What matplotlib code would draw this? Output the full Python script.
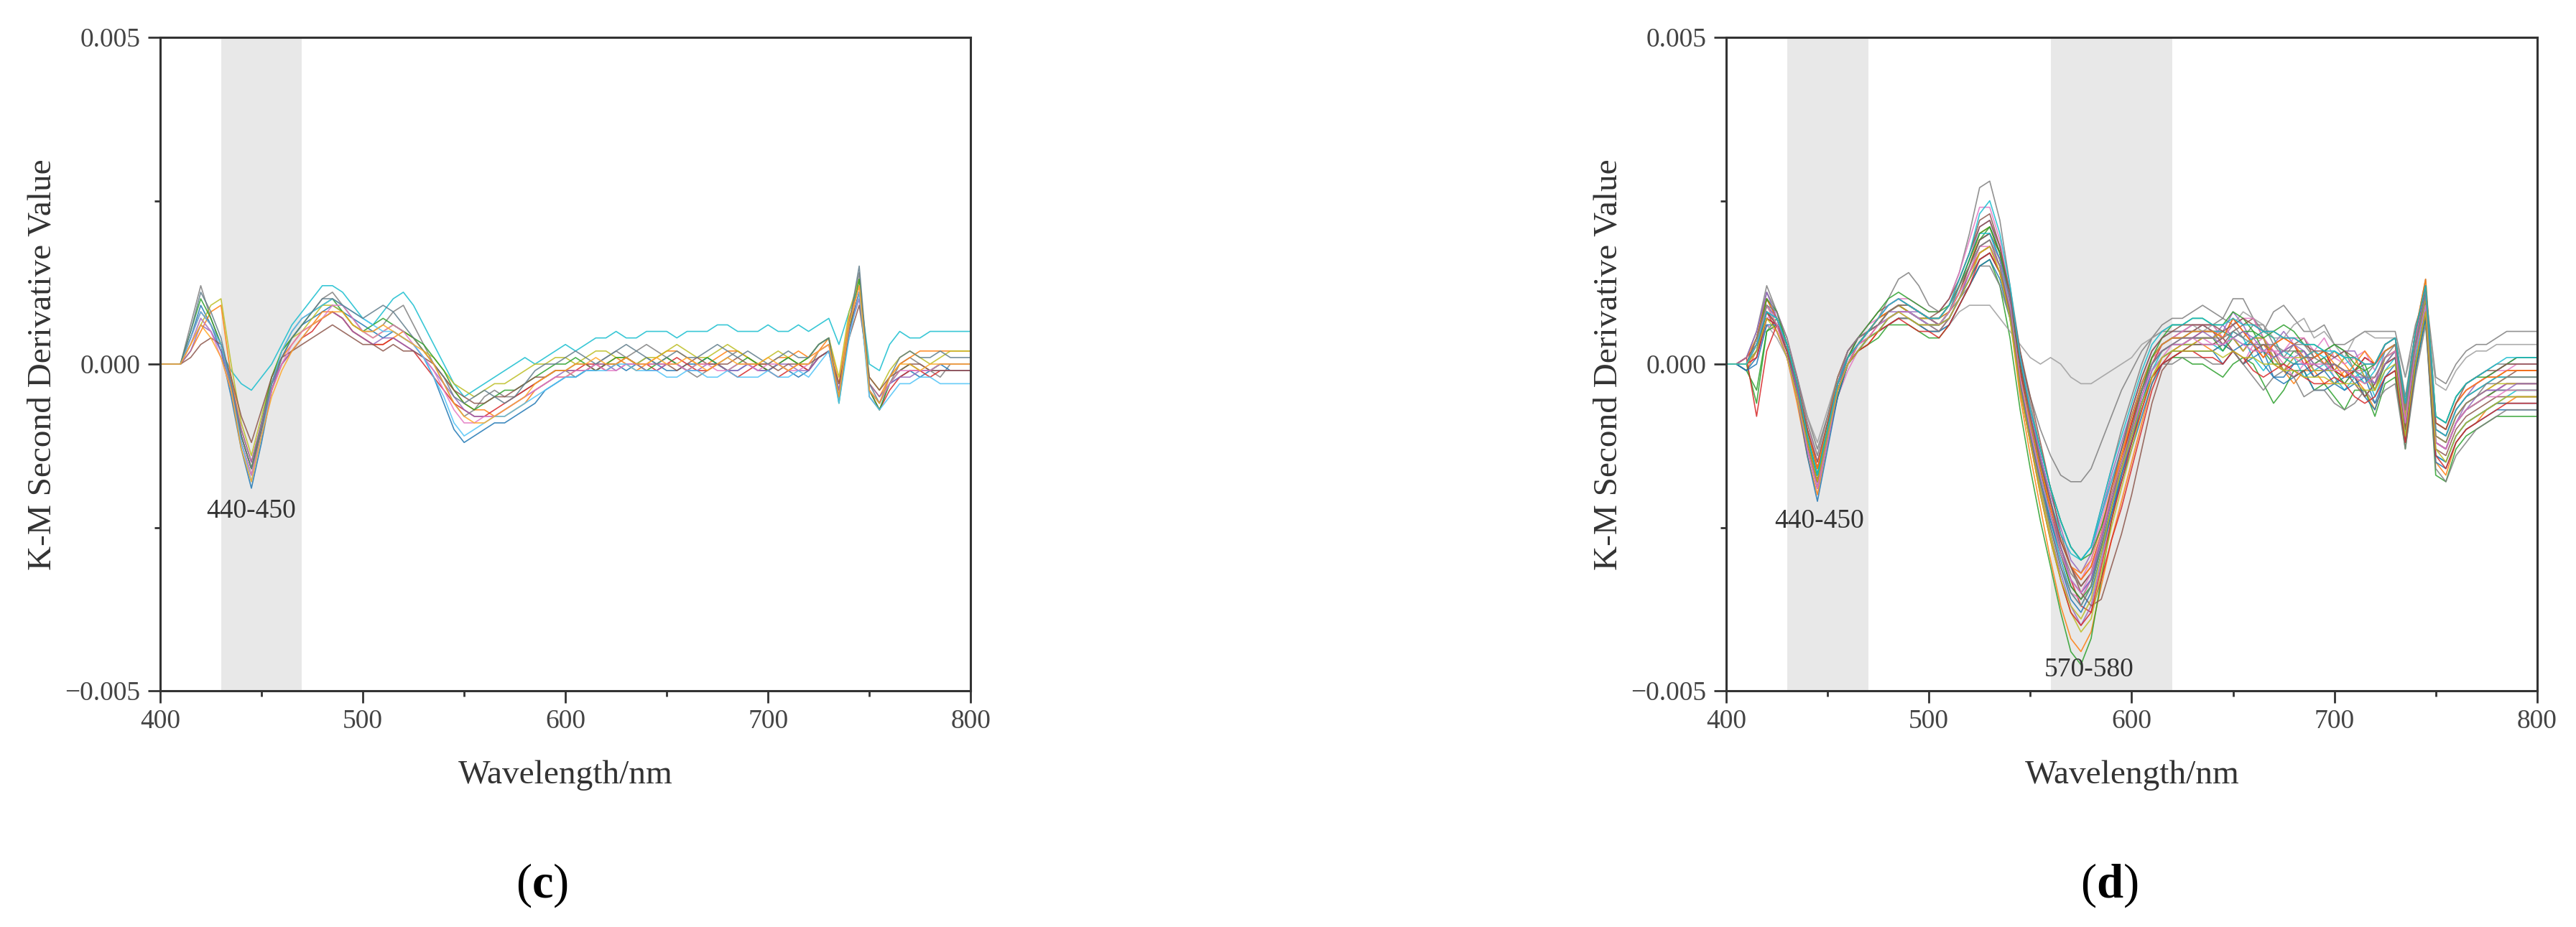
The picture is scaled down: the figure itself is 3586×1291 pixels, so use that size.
import numpy as np
import matplotlib.pyplot as plt
from matplotlib.ticker import MultipleLocator

plt.rcParams['font.family'] = 'Liberation Serif'
plt.rcParams['mathtext.fontset'] = 'custom'
plt.rcParams['mathtext.rm'] = 'Liberation Serif'
plt.rcParams['mathtext.bf'] = 'Liberation Serif:bold'

# wavelength grid, nm (one value every 5 nm)
wavelengths = np.arange(400, 801, 5)

# K-M second derivative values, in units of 1e-4
# groups: 400-440 | 445-490 | 495-540 | 545-590 | 595-640 | 645-690 | 695-740 | 745-790 | 795-800
curves_c = [
    "0 0 0 6 12 7 3 -4 -12 | -17 -10 -3 2 5 7 8 10 11 9 | 7 5 5 6 8 9 6 3 0 -3 | -6 -8 -7 -5 -4 -5 -5 -4 -3 -2 | -1 -1 -2 -1 0 1 2 1 2 3 | 2 1 0 -1 -2 -1 0 1 2 1 | 0 -1 0 1 0 -1 2 3 -4 6 | 14 -5 -7 -3 0 1 0 -1 -2 0 | 0 0",
    "0 0 0 3 7 5 2 -1 -3 | -4 -2 0 3 6 8 10 12 12 11 | 9 7 6 8 10 11 9 6 3 0 | -3 -5 -4 -3 -2 -1 0 1 0 1 | 2 3 2 3 4 4 5 4 4 5 | 5 5 4 5 5 5 6 6 5 5 | 5 6 5 5 6 5 6 7 3 8 | 12 0 -1 3 5 4 4 5 5 5 | 5 5",
    "0 0 0 4 9 6 2 -5 -13 | -19 -12 -4 1 4 6 7 8 9 8 | 7 6 5 4 5 4 3 1 -2 -6 | -10 -12 -11 -10 -9 -9 -8 -7 -6 -4 | -3 -2 -2 -1 -1 0 0 -1 0 1 | 0 -1 -1 0 0 1 0 -1 -1 0 | -1 -1 0 -1 -2 -1 1 2 -5 5 | 11 -4 -6 -3 -2 -1 -2 -1 0 -1 | -1 -1",
    "0 0 0 2 5 8 9 -2 -10 | -15 -9 -3 1 3 5 6 8 8 7 | 5 4 3 3 4 5 4 2 0 -2 | -4 -6 -7 -7 -8 -8 -7 -6 -4 -3 | -2 -2 -1 -1 0 0 1 0 -1 0 | 1 2 2 1 0 0 1 2 2 1 | 0 0 1 1 2 1 2 4 -3 7 | 12 -3 -5 -2 0 1 2 2 2 2 | 2 2",
    "0 0 0 3 6 9 10 0 -9 | -14 -8 -2 2 4 5 7 9 9 8 | 6 5 4 5 6 5 4 2 1 -1 | -3 -4 -5 -4 -3 -3 -2 -1 0 0 | 1 1 0 1 2 2 1 1 0 1 | 1 2 3 2 1 1 2 3 2 1 | 0 1 2 1 0 1 3 4 -2 8 | 13 -2 -4 -1 1 2 1 0 1 2 | 2 2",
    "0 0 0 4 8 6 3 -3 -11 | -16 -10 -4 0 2 4 5 7 8 7 | 5 4 3 3 4 3 2 0 -2 -4 | -6 -7 -8 -8 -7 -6 -5 -4 -3 -2 | -1 -1 -1 0 0 -1 0 1 0 0 | -1 0 1 0 -1 -1 0 -1 -2 -1 | 0 -1 -2 -1 0 -1 1 2 -5 5 | 11 -4 -7 -4 -2 -1 -1 -2 -1 -1 | -1 -1",
    "0 0 0 5 10 7 3 -3 -11 | -16 -9 -2 2 4 6 8 9 10 8 | 6 5 6 7 6 5 4 3 1 -1 | -4 -6 -7 -6 -5 -4 -4 -3 -2 -1 | 0 0 1 0 -1 0 1 1 0 -1 | 0 1 0 -1 0 1 0 -1 0 1 | 0 -1 0 1 0 1 3 4 -6 5 | 13 -4 -7 -3 -1 0 -1 -1 0 0 | 0 0",
    "0 0 0 2 6 5 2 -3 -10 | -15 -9 -3 0 2 4 6 7 8 7 | 5 4 3 4 4 3 2 1 -1 -3 | -5 -7 -8 -8 -8 -7 -6 -5 -4 -3 | -2 -1 -1 -1 0 0 -1 0 0 -1 | -1 0 0 -1 -1 0 0 -1 -1 0 | -1 -1 0 0 -1 -1 1 2 -4 5 | 10 -3 -5 -3 -2 -2 -1 -1 -1 -1 | -1 -1",
    "0 0 0 1 3 4 3 -2 -8 | -12 -7 -2 1 2 3 4 5 6 5 | 4 3 3 2 3 2 2 1 0 -2 | -4 -5 -6 -6 -5 -5 -4 -3 -2 -2 | -1 -1 0 0 -1 0 0 1 0 0 | 0 0 -1 0 1 0 0 0 1 0 | 0 0 -1 0 0 0 1 2 -3 4 | 9 -2 -4 -2 -1 0 0 -1 -1 -1 | -1 -1",
    "0 0 0 3 7 5 1 -4 -12 | -17 -11 -4 0 3 5 6 7 9 9 | 7 5 4 5 6 5 3 1 -1 -4 | -7 -9 -9 -8 -8 -7 -6 -5 -4 -3 | -2 -2 -1 -1 0 -1 -1 0 0 0 | 0 0 0 -1 0 0 -1 -1 0 0 | -1 0 0 -1 -1 0 2 3 -5 6 | 12 -4 -6 -3 -1 -1 -1 -1 0 0 | 0 0",
    "0 0 0 4 8 6 3 -3 -12 | -18 -11 -3 2 5 7 8 9 10 9 | 8 7 6 5 5 4 3 1 -2 -5 | -9 -11 -10 -9 -8 -8 -7 -6 -5 -4 | -3 -2 -2 -1 -1 -1 0 0 -1 -1 | -1 -2 -2 -1 -1 -2 -2 -1 -2 -2 | -2 -1 -2 -2 -1 -2 0 2 -6 4 | 11 -5 -7 -5 -3 -3 -2 -2 -3 -3 | -3 -3",
    "0 0 0 5 11 8 4 -3 -11 | -16 -10 -3 1 4 6 8 10 10 9 | 8 7 8 9 8 6 4 2 0 -2 | -5 -6 -5 -4 -5 -6 -5 -3 -1 0 | 0 1 2 1 0 1 2 3 2 1 | 0 1 2 1 1 2 3 2 1 2 | 1 0 1 2 1 1 3 4 -5 6 | 15 -3 -6 -2 1 2 1 1 2 1 | 1 1",
    "0 0 0 3 6 4 1 -4 -13 | -18 -11 -5 -1 2 4 6 7 8 8 | 6 5 5 6 5 4 3 2 0 -3 | -6 -8 -9 -9 -8 -7 -6 -5 -3 -2 | -1 -1 0 0 1 0 0 1 0 0 | 1 0 0 1 0 -1 0 1 0 0 | 0 1 0 -1 0 0 2 3 -5 6 | 12 -4 -6 -2 0 0 -1 0 0 0 | 0 0",
]

curves_d = [
    "0 0 0 4 11 8 3 -3 -12 | -18 -11 -4 1 3 5 7 10 13 14 | 12 9 8 10 14 20 27 28 22 12 | 2 -6 -13 -19 -24 -28 -30 -28 -22 -16 | -10 -5 0 4 6 7 7 8 9 8 | 7 10 10 7 5 8 9 7 5 5 | 6 3 3 4 5 5 5 5 -2 6 | 11 -2 -3 0 2 3 3 4 5 5 | 5 5",
    "0 0 -1 2 8 6 1 -6 -14 | -20 -12 -4 0 2 3 5 6 7 7 | 6 5 5 7 10 13 16 17 14 7 | -5 -14 -22 -30 -37 -42 -44 -41 -34 -27 | -21 -15 -9 -3 1 2 2 3 3 2 | 3 2 0 2 3 1 -1 -3 -1 -1 | -3 -3 -1 -2 -4 -7 -2 -1 -12 0 | 8 -15 -17 -12 -10 -9 -7 -6 -6 -5 | -5 -5",
    "0 0 -1 -4 5 7 3 -4 -13 | -19 -12 -5 0 2 3 4 6 6 6 | 5 4 4 6 9 12 15 16 12 4 | -7 -16 -24 -31 -38 -44 -46 -42 -33 -24 | -17 -11 -6 -2 0 1 1 0 0 -1 | -2 0 1 0 -3 -6 -4 -1 -1 -4 | -3 -5 -7 -4 -4 -8 -3 -2 -13 -1 | 7 -17 -18 -13 -11 -10 -9 -8 -8 -8 | -8 -8",
    "0 0 1 3 8 5 1 -5 -12 | -18 -11 -4 0 3 5 6 8 9 9 | 8 7 6 8 12 15 19 20 16 10 | 0 -8 -15 -22 -28 -33 -37 -38 -33 -27 | -22 -16 -10 -4 0 2 3 3 4 4 | 5 4 2 4 4 0 -1 0 1 -2 | -1 0 -1 -2 -5 -3 0 1 -10 2 | 10 -12 -13 -9 -7 -6 -5 -4 -3 -3 | -3 -3",
    "0 0 0 2 9 7 3 -3 -10 | -16 -10 -3 1 4 5 7 9 10 9 | 8 7 7 9 12 16 21 22 17 10 | -1 -8 -14 -20 -25 -30 -32 -29 -23 -17 | -12 -7 -2 2 4 5 5 5 6 5 | 5 8 6 3 2 3 5 3 1 2 | 0 1 2 2 -1 -3 2 3 -7 3 | 11 -10 -11 -7 -5 -3 -2 -1 0 1 | 1 1",
    "0 0 0 4 10 7 3 -3 -11 | -17 -10 -3 2 4 6 8 9 10 9 | 8 7 7 9 13 17 22 23 18 10 | -1 -9 -16 -23 -29 -34 -36 -33 -27 -21 | -15 -9 -3 1 3 4 5 5 6 5 | 3 5 6 7 4 1 2 3 4 1 | 2 -1 -2 -1 1 0 2 3 -7 4 | 11 -10 -11 -7 -5 -4 -3 -2 -2 -1 | -1 -1",
    "0 0 0 1 6 5 1 -5 -13 | -19 -12 -5 -1 2 4 5 7 8 7 | 6 6 5 7 10 13 17 18 15 8 | -3 -11 -18 -25 -30 -35 -36 -33 -27 -20 | -14 -8 -3 1 2 3 3 4 4 3 | 4 2 0 3 4 2 0 -2 0 0 | 1 -2 -3 -1 -1 -4 0 1 -9 2 | 9 -12 -13 -9 -7 -6 -5 -4 -3 -3 | -3 -3",
    "0 0 1 5 12 8 3 -2 -8 | -13 -8 -2 2 4 5 7 8 9 8 | 7 6 6 8 10 12 15 15 12 7 | 1 -5 -10 -14 -17 -18 -18 -16 -12 -8 | -4 -1 2 4 5 5 5 6 6 6 | 7 6 4 6 6 3 1 3 3 1 | 2 3 2 -1 -2 0 3 4 -5 5 | 13 -8 -9 -5 -3 -2 -1 0 0 0 | 0 0",
    "0 0 0 2 6 4 1 -3 -8 | -12 -7 -2 1 3 4 5 6 7 7 | 6 5 5 6 8 9 9 9 7 5 | 3 1 0 1 0 -2 -3 -3 -2 -1 | 0 1 3 4 5 6 6 6 5 6 | 4 6 8 7 6 4 4 6 7 4 | 5 3 1 4 5 4 4 4 -2 4 | 9 -3 -4 -1 1 2 2 3 3 3 | 3 3",
    "0 0 0 3 9 6 2 -4 -11 | -17 -10 -3 1 3 5 6 8 9 9 | 8 7 7 8 11 15 19 20 16 10 | -2 -10 -17 -24 -30 -35 -37 -34 -28 -22 | -17 -12 -6 -1 2 3 3 3 3 3 | 2 5 4 1 -1 1 2 1 -2 -1 | 0 -2 -4 -2 -1 -5 -1 1 -11 1 | 9 -14 -15 -11 -9 -8 -7 -6 -5 -4 | -4 -4",
    "0 0 -1 1 7 6 2 -4 -12 | -18 -11 -4 0 2 4 5 6 7 7 | 6 5 5 6 9 12 15 16 13 7 | -3 -11 -18 -24 -29 -33 -35 -33 -28 -23 | -18 -13 -8 -3 0 1 2 2 2 2 | 3 2 0 1 2 -2 -3 -2 -1 -4 | -4 -3 -2 -2 -5 -7 -2 -1 -12 -1 | 7 -15 -16 -12 -10 -9 -8 -7 -7 -7 | -7 -7",
    "0 0 0 3 8 7 3 -3 -10 | -16 -10 -3 1 3 5 7 8 9 9 | 8 7 7 9 12 15 20 21 17 10 | -1 -9 -16 -22 -27 -31 -32 -30 -25 -19 | -14 -9 -4 1 3 4 4 5 5 5 | 5 4 2 4 5 4 1 0 1 2 | 0 2 0 -2 -3 -2 1 2 -8 3 | 10 -11 -12 -8 -6 -5 -4 -3 -2 -2 | -2 -2",
    "0 0 0 -6 5 6 2 -5 -12 | -18 -11 -5 0 3 5 6 7 8 8 | 7 6 6 8 11 15 19 21 17 10 | -1 -9 -16 -23 -29 -34 -36 -34 -28 -22 | -16 -10 -4 0 2 3 3 4 4 4 | 2 4 5 5 2 0 0 2 2 0 | 1 -1 -3 -1 0 -4 0 2 -9 2 | 10 -12 -13 -9 -7 -6 -5 -4 -4 -4 | -4 -4",
    "0 0 1 -8 2 6 3 -3 -10 | -16 -10 -4 0 3 4 6 8 9 8 | 7 7 6 8 11 14 17 18 15 9 | -1 -8 -15 -21 -27 -31 -33 -31 -26 -20 | -15 -9 -4 0 3 4 4 4 5 5 | 4 7 5 3 1 3 4 3 0 1 | 2 -1 -2 -1 1 0 2 3 -7 4 | 12 -9 -10 -6 -4 -3 -2 -2 -1 -1 | -1 -1",
    "0 0 0 3 9 7 2 -4 -12 | -18 -11 -4 1 3 5 6 8 8 8 | 7 6 6 7 10 14 17 18 15 8 | -3 -11 -19 -26 -32 -37 -40 -37 -30 -23 | -17 -11 -5 0 2 3 4 4 4 4 | 6 4 2 4 4 1 -1 1 2 -1 | -1 -1 1 1 -2 -4 1 2 -8 3 | 10 -12 -13 -9 -6 -5 -4 -4 -3 -3 | -3 -3",
    "0 0 0 4 10 7 2 -4 -12 | -18 -11 -3 1 4 5 7 8 9 8 | 7 7 6 8 11 15 19 20 17 11 | 2 -5 -12 -19 -26 -31 -35 -37 -36 -31 | -26 -20 -13 -6 -1 1 2 3 3 3 | 4 2 0 2 3 2 -1 -2 -1 0 | -1 0 -1 -3 -5 -3 0 1 -10 2 | 10 -13 -14 -10 -8 -7 -6 -5 -5 -5 | -5 -5",
    "0 0 0 2 7 8 4 -2 -9 | -15 -9 -2 2 4 6 7 9 10 10 | 9 8 8 10 14 19 24 24 19 11 | 0 -8 -15 -21 -27 -31 -33 -30 -24 -18 | -13 -8 -3 1 3 4 5 6 6 6 | 4 6 7 7 4 2 2 4 4 2 | 4 1 0 1 2 -1 3 4 -6 4 | 11 -9 -10 -6 -4 -3 -2 -1 -1 0 | 0 0",
    "0 0 0 3 8 6 2 -4 -12 | -19 -12 -4 0 2 4 5 6 7 7 | 6 6 5 7 10 13 16 17 14 8 | -3 -10 -17 -23 -28 -32 -34 -32 -27 -21 | -16 -11 -6 -2 0 0 1 1 1 0 | 0 2 0 -2 -4 -2 -1 -2 -5 -4 | -4 -6 -7 -6 -4 -6 -4 -3 -13 -2 | 6 -16 -18 -14 -12 -10 -9 -8 -7 -7 | -7 -7",
    "0 0 0 3 9 6 2 -3 -11 | -17 -10 -3 1 3 5 6 8 9 8 | 7 7 6 8 11 14 18 19 15 8 | -4 -12 -19 -26 -33 -38 -41 -39 -32 -25 | -19 -13 -7 -2 1 2 3 3 4 4 | 5 4 2 4 4 1 -1 1 1 -1 | -1 -1 1 1 -2 -4 1 2 -8 3 | 10 -11 -12 -8 -6 -5 -4 -3 -3 -3 | -3 -3",
    "0 0 0 2 8 7 3 -3 -11 | -17 -10 -3 1 3 5 6 7 8 8 | 7 6 6 8 12 16 20 20 16 9 | -2 -9 -15 -21 -26 -29 -30 -28 -23 -18 | -13 -8 -3 1 3 4 4 5 5 5 | 5 4 3 4 5 4 1 0 1 2 | 1 2 1 -1 -3 -1 2 3 -7 3 | 11 -10 -11 -7 -5 -4 -3 -2 -2 -2 | -2 -2",
    "0 0 -1 0 6 6 2 -5 -14 | -21 -13 -5 0 2 4 5 7 8 8 | 7 6 6 7 10 13 16 17 14 8 | -3 -11 -18 -25 -31 -36 -38 -35 -29 -23 | -17 -12 -6 -1 1 2 2 2 2 2 | 0 2 3 3 0 -2 -2 0 0 -2 | -1 -3 -4 -3 -2 -6 -2 0 -11 0 | 8 -14 -15 -11 -9 -8 -7 -6 -6 -6 | -6 -6",
    "0 0 1 4 10 7 2 -3 -10 | -16 -9 -2 2 4 5 7 8 9 9 | 8 7 7 8 11 14 17 18 14 8 | -2 -9 -16 -22 -27 -31 -33 -31 -26 -20 | -14 -8 -3 1 3 4 4 5 5 5 | 4 7 5 3 1 3 4 3 1 1 | 2 0 -2 0 2 0 2 3 -7 5 | 13 -9 -10 -6 -4 -3 -2 -2 -1 -1 | -1 -1",
    "0 0 0 3 10 8 3 -3 -11 | -17 -10 -3 1 4 6 8 10 11 10 | 9 8 8 9 12 16 20 21 17 10 | 0 -7 -13 -19 -24 -28 -30 -29 -25 -20 | -15 -10 -4 1 4 6 6 7 7 6 | 6 8 7 5 4 5 6 5 3 3 | 2 3 2 0 -1 0 3 4 -6 5 | 12 -8 -9 -5 -3 -2 -2 -1 0 1 | 1 1",
    "0 0 0 1 7 6 2 -4 -12 | -18 -11 -4 0 2 3 5 6 7 6 | 5 5 4 6 9 12 16 17 14 8 | -4 -12 -20 -27 -33 -38 -40 -38 -31 -24 | -18 -12 -7 -2 0 1 2 2 1 1 | 0 2 1 -1 -2 -1 0 -1 -2 -3 | -3 -2 -3 -5 -6 -5 -2 -1 -12 0 | 8 -14 -16 -12 -10 -9 -8 -7 -6 -6 | -6 -6",
    "0 0 1 5 11 7 2 -4 -13 | -19 -11 -3 2 4 5 6 7 8 8 | 8 7 6 7 10 14 18 19 16 10 | 1 -7 -14 -21 -28 -33 -35 -33 -27 -21 | -16 -11 -5 0 2 3 3 4 5 4 | 3 4 5 4 2 1 2 3 2 0 | -1 0 -1 -2 -2 -3 0 2 -9 3 | 11 -12 -13 -9 -7 -5 -4 -4 -4 -3 | -3 -3",
    "0 0 0 2 8 6 2 -3 -10 | -15 -9 -3 1 3 5 6 8 9 9 | 8 7 8 10 13 17 21 22 18 11 | 0 -8 -15 -21 -27 -31 -34 -32 -26 -19 | -13 -7 -2 2 4 5 6 6 6 6 | 5 6 7 6 5 5 4 4 3 2 | 2 1 2 1 0 0 3 4 -6 5 | 12 -9 -10 -6 -3 -2 -1 -1 0 0 | 0 0",
    "0 0 0 3 9 6 1 -5 -13 | -19 -12 -4 0 3 4 6 7 8 8 | 7 6 6 8 11 14 18 18 15 9 | -2 -10 -17 -23 -29 -33 -35 -32 -26 -20 | -15 -10 -5 -1 1 3 3 4 3 3 | 3 4 3 2 2 2 1 1 0 0 | 0 -1 -1 -2 -3 -2 1 2 -9 2 | 9 -12 -13 -9 -7 -6 -5 -5 -4 -4 | -4 -4",
    "0 0 0 4 9 8 4 -2 -9 | -14 -8 -2 2 4 5 6 8 9 9 | 8 7 7 9 12 15 18 19 15 8 | -3 -11 -18 -25 -31 -35 -37 -34 -28 -22 | -16 -10 -4 0 2 3 4 4 4 4 | 4 5 4 3 3 3 2 2 1 1 | 0 0 -1 -1 -2 -2 1 3 -7 3 | 11 -11 -12 -8 -6 -5 -3 -3 -2 -2 | -2 -2",
    "0 0 0 2 7 5 1 -5 -12 | -18 -11 -4 0 2 4 5 7 8 7 | 6 6 6 7 10 13 17 18 14 7 | -4 -12 -20 -27 -33 -37 -39 -36 -29 -22 | -16 -11 -6 -2 1 2 2 2 2 2 | 1 2 1 1 0 0 -1 -1 -2 -2 | -2 -3 -3 -3 -4 -4 -1 0 -11 0 | 8 -13 -15 -11 -9 -8 -7 -6 -5 -5 | -5 -5",
    "0 0 0 3 8 7 3 -3 -11 | -17 -10 -3 1 3 5 7 9 10 9 | 8 7 7 9 13 17 23 25 20 12 | 1 -7 -13 -19 -24 -28 -30 -28 -22 -16 | -11 -6 -1 3 5 6 6 7 7 6 | 6 7 6 6 5 5 4 4 3 3 | 2 2 1 1 0 0 3 4 -6 5 | 12 -8 -9 -5 -3 -2 -1 0 1 1 | 1 1",
]

# shaded wavelength bands (nm)
bands_c = [(430, 470)]
bands_d = [(430, 470), (560, 620)]

# band labels
labels_c = ["440-450"]
labels_d = ["440-450", "570-580"]

palette = ['#1f77b4', '#ff7f0e', '#2ca02c', '#d62728', '#9467bd', '#8c564b',
           '#e377c2', '#7f7f7f', '#bcbd22', '#17becf']
colors_c = ['#7f7f7f', '#17becf', '#1f77b4', '#ff7f0e', '#bcbd22', '#d62728', '#2ca02c',
            '#9467bd', '#8c564b', '#e377c2', '#4fc3f7', '#607d8b', '#ffa726']
colors_d = [palette[i % 10] for i in range(len(curves_d))]
colors_d[0] = '#7f7f7f'
colors_d[8] = '#9e9e9e'


def parse(s):
    vals = np.array(s.replace('|', ' ').split(), dtype=float) * 1e-4
    assert len(vals) == len(wavelengths), (len(vals), s[:30])
    return vals


def draw(ax, curves, colors, bands, labels, label_pos):
    for lo, hi in bands:
        ax.axvspan(lo, hi, color='#e8e8e8', lw=0, zorder=0)
    for s, c in zip(curves, colors):
        ax.plot(wavelengths, parse(s), color=c, lw=1.2, alpha=0.85, zorder=2)
    for txt, (x, y) in zip(labels, label_pos):
        ax.text(x, y, txt, ha='center', va='center', fontsize=27, color='#333333', zorder=3)

    ax.set_xlim(400, 800)
    ax.set_ylim(-0.005, 0.005)
    ax.xaxis.set_major_locator(MultipleLocator(100))
    ax.xaxis.set_minor_locator(MultipleLocator(50))
    ax.set_yticks([-0.005, 0.0, 0.005])
    ax.set_yticklabels(['\u22120.005', '0.000', '0.005'])
    ax.yaxis.set_minor_locator(MultipleLocator(0.0025))
    ax.tick_params(which='major', direction='out', length=12, width=2, labelsize=27,
                   labelcolor='#444444', color='#333333')
    ax.tick_params(axis='x', which='major', pad=6)
    ax.tick_params(axis='y', which='major', pad=8)
    ax.tick_params(which='minor', direction='out', length=6, width=2, color='#333333')
    for sp in ax.spines.values():
        sp.set_linewidth(2.2)
        sp.set_color('#333333')


fig = plt.figure(figsize=(35.86, 12.91), dpi=100)

ax_c = fig.add_axes([0.0622, 0.2548, 0.3146, 0.7049])
ax_d = fig.add_axes([0.6701, 0.2548, 0.3148, 0.7049])

draw(ax_c, curves_c, colors_c, bands_c, labels_c, [(445, -0.00225)])
draw(ax_d, curves_d, colors_d, bands_d, labels_d, [(446, -0.0024), (579, -0.00468)])

for cx, tag, tx in [(0.2195, 'c', 0.2103), (0.8277, 'd', 0.8187)]:
    fig.text(cx, 0.1634, 'Wavelength/nm', ha='center', va='center', fontsize=34, color='#333333')
    fig.text(tx, 0.045, '($\\mathbf{' + tag + '}$)', ha='center', va='center', fontsize=48, color='black')

fig.text(0.0165, 0.607, 'K-M Second Derivative Value', rotation=90, ha='center', va='center',
         fontsize=34, color='#333333')
fig.text(0.6244, 0.607, 'K-M Second Derivative Value', rotation=90, ha='center', va='center',
         fontsize=34, color='#333333')

fig.savefig('out.png', dpi=100, facecolor='white')
